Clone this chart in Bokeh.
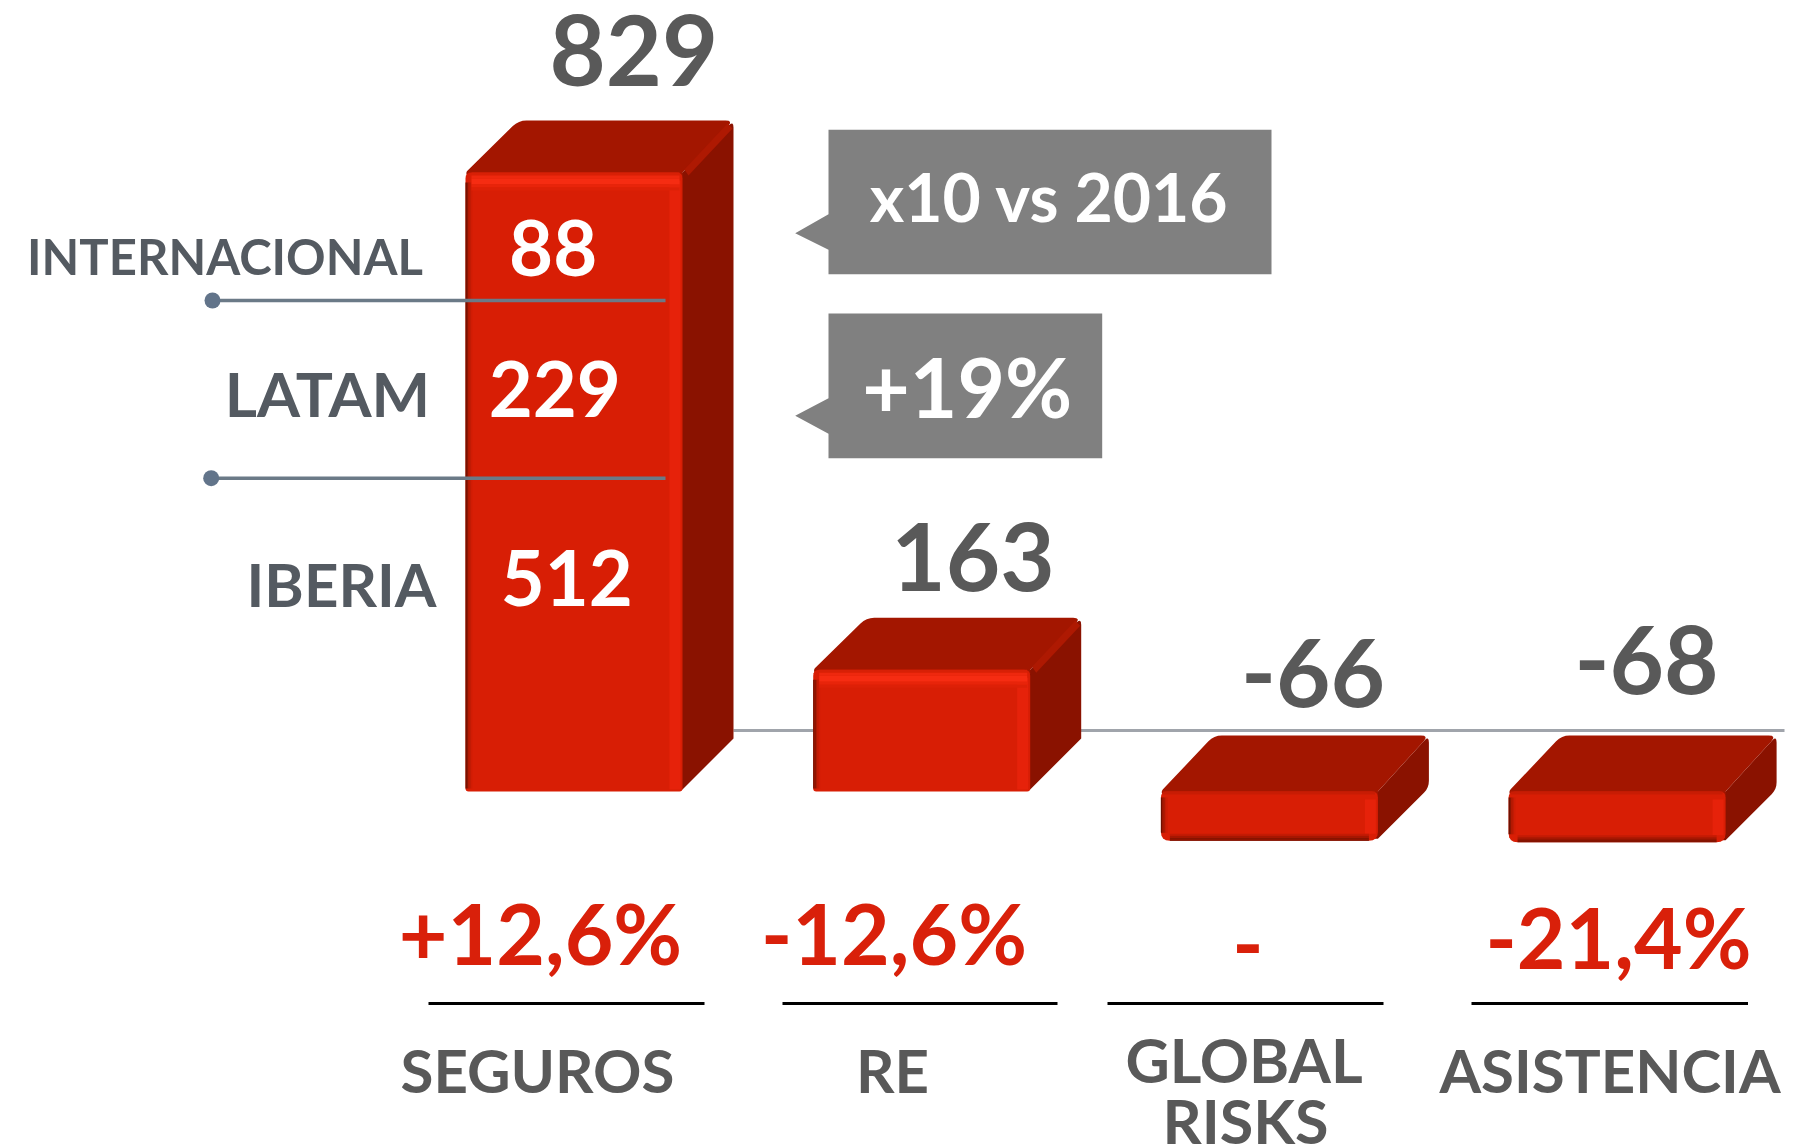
from bokeh.plotting import figure
from bokeh.models import Range1d
from bokeh.core.properties import value
from bokeh.embed import file_html
from bokeh.resources import INLINE

# ---- data ----
categories = ["SEGUROS", "RE", "GLOBAL\nRISKS", "ASISTENCIA"]
bar_values = [829, 163, -66, -68]
bar_labels = ["829", "163", "-66", "-68"]
changes = ["+12,6%", "-12,6%", "-", "-21,4%"]
region_names = ["INTERNACIONAL", "LATAM", "IBERIA"]
region_values = ["88", "229", "512"]
callouts = ["x10 vs 2016", "+19%"]

# ---- layout (page pixels) ----
W, H = 1800, 1148
PX_X, PX_Y = 347.7, 0.7467      # pixels per category / per value unit
X0_PAGE, Y0_PAGE = 573.5, 791   # page position of category 0 / value 0
BAR_W = 217
DEPTH_X = 51
FONT = value("Lato")

xr = Range1d((0 - X0_PAGE) / PX_X, (W - X0_PAGE) / PX_X)
yr = Range1d((Y0_PAGE - H) / PX_Y, Y0_PAGE / PX_Y)

p = figure(width=W, height=H, x_range=xr, y_range=yr, x_axis_type=None, y_axis_type=None,
           output_backend="svg", toolbar_location=None, min_border=0,
           outline_line_color=None, background_fill_color="white")
p.extra_x_ranges["px"] = Range1d(0, W)
p.extra_y_ranges["px"] = Range1d(H, 0)


def px_line(x, y, color, width):
    p.line(x, y, line_color=color, line_width=width, x_range_name="px", y_range_name="px")


def px_text(x, y, text, size, color):
    # y is the wanted baseline; the offset corrects where the text is really set
    p.text(x=[x], y=[y - (0.32 * size + 4.8)], text=[text], text_font=FONT, text_font_style="bold",
           text_font_size=f"{size}px", text_color=color, text_align="center",
           text_baseline="alphabetic", x_range_name="px", y_range_name="px")


# baseline behind the bars
px_line([733, 1784], [730, 730], "#A0A4AB", 3)


def rounded(points, radii):
    """Polygon given in pixels (relative), with small chamfered corners."""
    out = []
    n = len(points)
    for k, ((x, y), r) in enumerate(zip(points, radii)):
        if r == 0:
            out.append((x, y))
            continue
        (xa, ya), (xb, yb) = points[k - 1], points[(k + 1) % n]
        la = ((xa - x) ** 2 + (ya - y) ** 2) ** 0.5
        lb = ((xb - x) ** 2 + (yb - y) ** 2) ** 0.5
        ax, ay = x + (xa - x) * r / la, y + (ya - y) * r / la
        bx, by = x + (xb - x) * r / lb, y + (yb - y) * r / lb
        for t in (0, 0.25, 0.5, 0.75, 1):
            out.append(((1 - t) ** 2 * ax + 2 * t * (1 - t) * x + t ** 2 * bx,
                        (1 - t) ** 2 * ay + 2 * t * (1 - t) * y + t ** 2 * by))
    return out


def draw_bar(i, v):
    # local helpers: pixel offsets to data units; dy is measured downward from the value
    hi, lo = max(v, 0), min(v, 0)
    L, R = -BAR_W / 2, BAR_W / 2

    def poly(pts, color, base):
        p.patch([i + x / PX_X for x, _ in pts], [base - y / PX_Y for _, y in pts],
                fill_color=color, line_color=None)

    def band(x0, x1, y0, y1, color):
        # x in px from centre; y in px below the top of the front face
        p.quad(left=[i + x0 / PX_X], right=[i + x1 / PX_X], top=[hi - y0 / PX_Y], bottom=[hi - y1 / PX_Y],
               fill_color=color, line_color=None)

    h = (hi - lo) * PX_Y       # front face height, px
    d = 52 if v > 0 else 56    # vertical depth
    neg = v < 0
    # side; its inner edge slides under the front so that no seam shows
    poly(rounded([(R, 0), (R + DEPTH_X, -d), (R + DEPTH_X, h - 53), (R, h - 2), (R - 4, h - 2), (R - 4, 0)],
                 [0, 7, 7 if neg else 0, 0, 0, 0]), "#8A1200", hi)
    # top; its lower edge slides under the front in the same way
    poly(rounded([(L, 0), (L + DEPTH_X + 2, -d), (R + DEPTH_X, -d), (R, 0), (R, 4), (L + 2, 4)],
                 [3, 8, 8, 0, 0, 0]), "#A31600", hi)
    # front
    poly(rounded([(L, 0), (R, 0), (R, h), (L, h)], [6, 6, 9 if neg else 3, 9 if neg else 3]), "#D81E05", hi)
    if not neg:
        # bright diagonal edge between the top and the side
        poly([(R + 2, -3), (R + DEPTH_X - 6, -d + 3), (R + DEPTH_X - 1, -d + 8), (R + 6, 3)], "#AE1902", hi)
    # left dark bevel
    bh0, bh1 = (10, h - 3) if not neg else (6, h - 8)
    for k, c in enumerate(["#6E1000", "#8E1502", "#AC1903", "#C21B04", "#D01D05"]):
        band(L + k * 1.4, L + (k + 1) * 1.4, bh0, bh1, c)
    # right bright bevel
    band(R - 13, R - 2, 8, h - (2 if not neg else 7), "#E6220A")
    if not neg:
        # top highlight band
        for y0, y1, c in [(0, 3, "#D82006"), (3, 6, "#EE280E"), (6, 12, "#F62C12"), (12, 15, "#E8240A"), (15, 18, "#DD2007")]:
            band(L + 6, R - 3, y0, y1, c)
    else:
        band(L + 2, R - 3, 0, 3, "#C81C04")
        for y0, y1, c in [(h - 7, h - 5, "#C31B04"), (h - 5, h - 3, "#A51702"), (h - 3, h - 1, "#861300"), (h - 1, h, "#701000")]:
            band(L + 9, R - 9, y0, y1, c)


for i, v in enumerate(bar_values):
    draw_bar(i, v)

# callouts
for x1, y0, y1, tip_y, base0, base1 in [(1271, 129.3, 273.7, 232.7, 213.7, 249.3),
                                        (1101.7, 313, 457.7, 415.3, 397.7, 433.3)]:
    p.patch([828, x1, x1, 828, 828, 794.7, 828], [y0, y0, y1, y1, base1, tip_y, base0],
            fill_color="#808080", line_color=None, x_range_name="px", y_range_name="px")

# connectors
for x0, y in [(212, 300), (210.7, 477.7)]:
    px_line([x0, 665], [y, y], "#6B7A87", 3.5)
    p.scatter([x0], [y], size=16, marker="circle", fill_color="#62748A", line_color=None,
              x_range_name="px", y_range_name="px")

# separators
for x0, x1 in [(428, 704), (782, 1057), (1107, 1383), (1471, 1747.5)]:
    px_line([x0, x1], [1003, 1003], "#000000", 3)

# texts
GREY, DARK, RED, WHITE = "#595959", "#545A61", "#D9200A", "#FFFFFF"
for t, x, y, s in zip(bar_labels, [633.3, 972.5, 1312.5, 1646], [86, 591, 707, 694.5], [97, 94, 94, 94]):
    px_text(x, y, t, s, GREY)
for t, x, y in zip(region_values, [552.7, 554.3, 566.3], [276.7, 417.7, 607]):
    px_text(x, y, t, 76, WHITE)
for t, x, y, s in zip(region_names, [224.5, 327, 341], [276, 417, 607], [49, 62, 60]):
    px_text(x, y, t, s, DARK)
for t, x, y, s in zip(callouts, [1049, 966.7], [222.3, 416.7], [66, 82]):
    px_text(x, y, t, s, WHITE)
for t, x, y in zip(changes, [540, 893.5, 1247.5, 1618], [964, 964, 975, 968]):
    px_text(x, y, t, 84, RED)
px_text(537, 1093.3, categories[0], 60, GREY)
px_text(892, 1093.3, categories[1], 60, GREY)
g1, g2 = categories[2].split("\n")
px_text(1243.5, 1083, g1, 61, GREY)
px_text(1245, 1144, g2, 61, GREY)
px_text(1609.5, 1093.3, categories[3], 60, GREY)

open("out.html", "w").write(file_html(p, INLINE))
